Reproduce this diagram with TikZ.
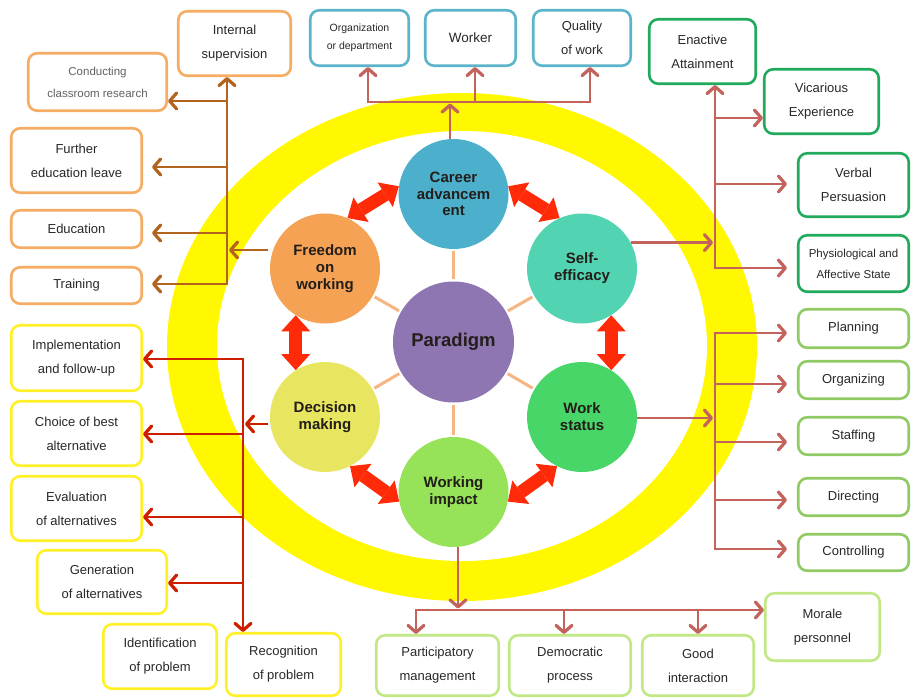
\documentclass[tikz,border=0pt]{standalone}
\usepackage{fontspec}
\setmainfont{Liberation Sans}
\usetikzlibrary{arrows.meta,calc}
\definecolor{ringY}{RGB}{255,248,0}
\definecolor{cCar}{RGB}{76,176,204}
\definecolor{cSel}{RGB}{82,212,178}
\definecolor{cWor}{RGB}{72,214,104}
\definecolor{cImp}{RGB}{150,226,88}
\definecolor{cDec}{RGB}{232,230,96}
\definecolor{cFre}{RGB}{245,162,84}
\definecolor{cPar}{RGB}{142,118,178}
\definecolor{spokeC}{RGB}{245,182,132}
\definecolor{redA}{RGB}{255,42,8}
\definecolor{brC}{RGB}{178,100,30}
\definecolor{saC}{RGB}{196,98,92}
\definecolor{drC}{RGB}{206,30,0}
\definecolor{bOr}{RGB}{246,172,98}
\definecolor{bBl}{RGB}{92,180,202}
\definecolor{bDg}{RGB}{34,170,92}
\definecolor{bLg}{RGB}{144,202,98}
\definecolor{bPg}{RGB}{192,232,132}
\definecolor{bYe}{RGB}{255,240,40}
\definecolor{txtC}{RGB}{40,40,40}
\definecolor{ctxt}{RGB}{35,30,25}
\begin{document}
\begin{tikzpicture}[x=1pt,y=-1pt,
  box/.style={draw, rounded corners=9pt, line width=2.6pt, fill=white, align=center,
    inner sep=0pt, text=txtC, font=\fontsize{13}{24}\selectfont},
  circ/.style={circle, inner sep=0pt, minimum size=110pt, align=center, text=ctxt,
    font=\fontsize{15}{16.8}\selectfont\bfseries},
  spoke/.style={draw=spokeC, line width=3pt, shorten <=2pt, shorten >=2pt},
  dblarr/.style={draw=redA, line width=13pt,
    {Triangle[length=16pt,width=29pt,line width=0pt]}-{Triangle[length=16pt,width=29pt,line width=0pt]}},
  barb/.tip={Straight Barb[length=7pt,width=16pt,line width=3.2pt,round]},
  tip/.style={line width=2.6pt, -barb},
  tips/.style={line width=2.6pt, barb-barb},
]
\useasboundingbox (0,0) rectangle (912,698);
\fill[white] (0,0) rectangle (912,698);

% yellow ring
\fill[ringY] (462,347) ellipse [x radius=295, y radius=254];
\fill[white] (462,346) ellipse [x radius=245, y radius=215];

% circles
\node[circ, fill=cCar] (car) at (453.5,194) {Career\\advancem\\ent};
\node[circ, fill=cFre] (fre) at (325,268.5) {Freedom\\on\\working};
\node[circ, fill=cSel] (sel) at (582,268.5) {Self-\\efficacy};
\node[circ, fill=cPar, minimum size=121pt, font=\fontsize{18.5}{20}\selectfont\bfseries] (pdm) at (453.5,342) {Paradigm};
\node[circ, fill=cDec] (dec) at (325,417) {Decision\\making};
\node[circ, fill=cWor] (wor) at (582,417) {Work\\status};
\node[circ, fill=cImp] (imp) at (453.5,492) {Working\\impact};

% spokes
\foreach \n in {car,fre,sel,dec,wor,imp} \draw[spoke] (pdm) -- (\n);

% red double arrows
\draw[dblarr] (fre.66) -- (car.172);
\draw[dblarr] (car.8) -- (sel.114);
\draw[dblarr] (fre.238) -- (dec.122);
\draw[dblarr] (sel.302) -- (wor.58);
\draw[dblarr] (dec.297) -- (imp.190);
\draw[dblarr] (wor.243) -- (imp.350);

% orange boxes
\node[box, draw=bOr, minimum width=112.5pt, minimum height=64.5pt] (isup) at (234.5,43.5) {Internal\\supervision};
\node[box, draw=bOr, minimum width=138.5pt, minimum height=57.5pt, text=black!62, font=\fontsize{11.5}{22}\selectfont] (cond) at (97.5,82) {Conducting\\classroom research};
\node[box, draw=bOr, minimum width=130.5pt, minimum height=64.5pt] (fel) at (76.5,160.5) {Further\\education leave};
\node[box, draw=bOr, minimum width=130.5pt, minimum height=37.5pt] (edu) at (76.5,229) {Education};
\node[box, draw=bOr, minimum width=130.5pt, minimum height=36.5pt] (trn) at (76.5,285.5) {Training};

% blue boxes
\node[box, draw=bBl, minimum width=98.5pt, minimum height=55.5pt, font=\fontsize{10.5}{18}\selectfont] (org) at (359.5,38) {Organization\\or department};
\node[box, draw=bBl, minimum width=90.5pt, minimum height=55.5pt, font=\fontsize{13.5}{24}\selectfont] (wrk) at (470.5,38) {Worker};
\node[box, draw=bBl, minimum width=97.5pt, minimum height=55.5pt] (qow) at (582,38) {Quality\\of work};

% dark green boxes
\node[box, draw=bDg, minimum width=106.5pt, minimum height=64.5pt] (ena) at (702.5,51.5) {Enactive\\Attainment};
\node[box, draw=bDg, minimum width=114.5pt, minimum height=64.5pt] (vic) at (821.5,101.5) {Vicarious\\Experience};
\node[box, draw=bDg, minimum width=110.5pt, minimum height=63.5pt] (ver) at (853.5,185) {Verbal\\Persuasion};
\node[box, draw=bDg, minimum width=110.5pt, minimum height=56.5pt, font=\fontsize{11.5}{21}\selectfont] (phy) at (853.5,263.5) {Physiological and\\Affective State};

% light green boxes
\node[box, draw=bLg, minimum width=110.5pt, minimum height=38.5pt] (pla) at (853.5,328.5) {Planning};
\node[box, draw=bLg, minimum width=110.5pt, minimum height=37.5pt] (orz) at (853.5,380) {Organizing};
\node[box, draw=bLg, minimum width=110.5pt, minimum height=37.5pt] (sta) at (853.5,436) {Staffing};
\node[box, draw=bLg, minimum width=110.5pt, minimum height=37.5pt] (dir) at (853.5,497) {Directing};
\node[box, draw=bLg, minimum width=110.5pt, minimum height=36.5pt] (ctl) at (853.5,552.5) {Controlling};

% bottom boxes
\node[box, draw=bPg, minimum width=122.5pt, minimum height=60.5pt] (pam) at (437.5,665.5) {Participatory\\management};
\node[box, draw=bPg, minimum width=121.5pt, minimum height=60.5pt] (dem) at (570,665.5) {Democratic\\process};
\node[box, draw=bPg, minimum width=111.5pt, minimum height=60.5pt] (goo) at (698,665.5) {Good\\interaction};
\node[box, draw=bPg, minimum width=114.5pt, minimum height=67.5pt] (mor) at (822.5,627) {Morale\\personnel};

% yellow boxes
\node[box, draw=bYe, minimum width=130.5pt, minimum height=65.5pt] (imf) at (76.5,358) {Implementation\\and follow-up};
\node[box, draw=bYe, minimum width=130.5pt, minimum height=64.5pt] (cho) at (76.5,433.5) {Choice of best\\alternative};
\node[box, draw=bYe, minimum width=130.5pt, minimum height=64.5pt] (eva) at (76.5,508.5) {Evaluation\\of alternatives};
\node[box, draw=bYe, minimum width=129.5pt, minimum height=63.5pt] (gen) at (102,582) {Generation\\of alternatives};
\node[box, draw=bYe, minimum width=113.5pt, minimum height=64.5pt] (ide) at (160,656.5) {Identification\\of problem};
\node[box, draw=bYe, minimum width=114.5pt, minimum height=62.5pt] (rec) at (283.5,664.5) {Recognition\\of problem};

% ---- brown connectors (Freedom on working)
\coordinate (bj) at (227,250);
\coordinate (bfs) at (268,250);
\coordinate (bbot) at (227,284);
\coordinate (b1) at (227,101);
\coordinate (b2) at (227,167);
\coordinate (b3) at (227,233);
\draw[tips, draw=brC, shorten <=9pt] (bbot -| trn.east) -- (bbot) -- (bbot |- isup.south);
\draw[tip, draw=brC] (bfs) -- ($(bj)+(2,0)$);
\draw[tip, draw=brC] (b1) -- (b1 -| cond.east);
\draw[tip, draw=brC, shorten >=9pt] (b2) -- (b2 -| fel.east);
\draw[tip, draw=brC, shorten >=9pt] (b3) -- (b3 -| edu.east);

% ---- top connectors (Career advancement)
\coordinate (tj) at (450,102);
\coordinate (tl) at (368,102);
\coordinate (tm) at (475,102);
\coordinate (tr) at (590,102);
\draw[tip, draw=saC, shorten >=1.5pt] (tj |- car.north) -- (tj);
\draw[tips, draw=saC] (tl |- org.south) -- (tl) -- (tr) -- (tr |- qow.south);
\draw[tip, draw=saC] (tm) -- (tm |- wrk.south);

% ---- right top connectors (Self-efficacy)
\coordinate (rt) at (715,268);
\coordinate (rin) at (713,243);
\coordinate (r1) at (715,118);
\coordinate (r2) at (715,184);
\draw[tips, draw=saC, shorten <=10pt] (rt -| phy.west) -- (rt) -- (rt |- ena.south);
\draw[tip, draw=saC] (sel.28) -- (sel.28 -| rin);
\draw[tip, draw=saC] (r1) -- (r1 -| vic.west);
\draw[tip, draw=saC, shorten >=10pt] (r2) -- (r2 -| ver.west);

% ---- right bottom connectors (Work status)
\coordinate (w1) at (715,333);
\coordinate (w2) at (715,384);
\coordinate (w3) at (715,442);
\coordinate (w4) at (715,500);
\coordinate (w5) at (715,549);
\coordinate (win) at (713,418);
\draw[tips, draw=saC, shorten <=10pt, shorten >=10pt] (w1 -| pla.west) -- (w1) -- (w5) -- (w5 -| ctl.west);
\draw[tip, draw=saC, shorten >=10pt] (w2) -- (w2 -| orz.west);
\draw[tip, draw=saC, shorten >=10pt] (w3) -- (w3 -| sta.west);
\draw[tip, draw=saC, shorten >=10pt] (w4) -- (w4 -| dir.west);
\draw[tip, draw=saC] (wor.east |- win) -- (win);

% ---- bottom connectors (Working impact)
\coordinate (mj) at (458,610);
\coordinate (ml) at (416,610);
\coordinate (mm) at (564,610);
\coordinate (mr) at (698,610);
\draw[tip, draw=saC, shorten >=1.5pt] (mj |- imp.south) -- (mj);
\draw[tips, draw=saC] (ml |- pam.north) -- (ml) -- (ml -| mor.west);
\draw[tip, draw=saC] (mm) -- (mm |- dem.north);
\draw[tip, draw=saC] (mr) -- (mr |- goo.north);

% ---- left connectors (Decision making)
\coordinate (lt) at (243,359);
\coordinate (l1) at (243,434);
\coordinate (l2) at (243,517);
\coordinate (l3) at (243,583);
\coordinate (lfs) at (268,424);
\coordinate (lin) at (245,424);
\draw[tips, draw=drC] (lt -| imf.east) -- (lt) -- (lt |- rec.north);
\draw[tip, draw=drC] (l1) -- (l1 -| cho.east);
\draw[tip, draw=drC] (l2) -- (l2 -| eva.east);
\draw[tip, draw=drC] (l3) -- (l3 -| gen.east);
\draw[tip, draw=drC] (lfs) -- (lin);
\end{tikzpicture}
\end{document}
